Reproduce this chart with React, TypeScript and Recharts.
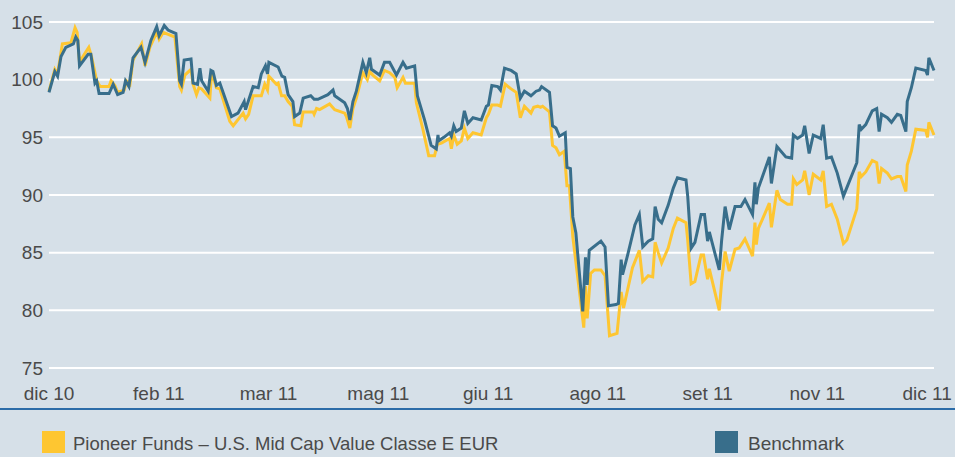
import React from "react";
import { LineChart, Line, XAxis, YAxis, CartesianGrid } from "recharts";

// trading days since dic 10 (x) and index values (y)
const fundDays = [
  0, 1.7, 2.5, 3.9, 6.4, 7.6, 8.2, 8.9, 10.3, 11.6, 12.4, 13.9, 14.9, 17.5, 18.1, 19.2, 20.0, 21.9, 22.6, 23.6,
  24.5, 27.0, 28.0, 29.4, 31.4, 32.1, 33.3, 36.7, 38.1, 38.6, 39.6, 41.4, 42.0, 43.0, 43.7, 44.5, 46.9, 47.4, 47.8,
  48.8, 49.8, 52.7, 53.7, 56.6, 57.3, 58.2, 59.5, 61.9, 62.9, 63.7, 64.1, 66.3, 66.8, 67.8, 68.7, 69.7, 70.9, 71.6,
  73.4, 74.1, 77.0, 77.3, 78.0, 78.9, 81.8, 83.3, 86.2, 86.7, 87.7, 88.6, 89.6, 91.5, 92.8, 93.5, 94.4, 96.4, 97.8,
  99.3, 100.8, 101.5, 103.2, 103.9, 106.6, 107.1, 109.0, 110.7, 112.4, 113.2, 114.4, 116.8, 117.3, 118.0, 119.0,
  120.2, 121.1, 122.1, 123.6, 126.0, 127.5, 128.1, 129.1, 130.8, 131.6, 133.0, 134.7, 136.2, 137.4, 138.6, 140.5,
  141.3, 142.5, 143.3, 143.9, 145.9, 146.8, 147.8, 148.8, 150.2, 151.0, 151.7, 152.7, 155.9, 156.4, 156.9, 157.9,
  159.0, 160.9, 162.1, 163.4, 165.6, 166.8, 167.5, 170.1, 172.1, 173.1, 174.7, 176.0, 176.7, 177.6, 178.6, 180.5,
  182.0, 183.2, 185.7, 186.2, 187.2, 188.3, 190.1, 190.8, 192.0, 192.5, 195.4, 196.1, 197.1, 198.3, 200.0, 201.2,
  202.9, 205.1, 205.8, 206.2, 206.8, 208.0, 210.0, 210.6, 212.2, 213.2, 215.3, 216.5, 217.0, 218.0, 219.7, 220.3,
  221.6, 222.8, 225.0, 225.7, 226.7, 228.1, 229.8, 231.6, 232.6, 235.5, 236.2, 236.8, 238.1, 240.0, 241.3, 242.0,
  242.7, 244.4, 245.6, 247.3, 248.3, 249.8, 250.2, 251.4, 252.7, 255.6, 256.1, 256.5, 258.0,
];
const fundValues = [
  99.0, 100.9, 100.5, 103.1, 103.2, 104.5, 104.1, 101.5, 102.2, 102.8, 102.0, 99.9, 99.4, 99.4, 99.9, 99.5, 98.9,
  99.1, 99.9, 99.6, 101.7, 103.1, 101.2, 102.8, 104.1, 103.5, 104.1, 103.7, 99.4, 99.1, 100.4, 100.9, 99.6, 98.7,
  99.3, 99.2, 98.4, 100.6, 100.3, 99.3, 99.2, 96.4, 96.0, 97.1, 96.6, 97.0, 98.6, 98.6, 99.6, 99.1, 100.3, 99.6,
  99.7, 98.6, 98.6, 98.1, 97.7, 96.1, 96.0, 97.2, 97.2, 97.0, 97.5, 97.4, 97.9, 97.4, 97.1, 96.8, 95.8, 97.5, 98.4,
  100.6, 100.0, 100.7, 100.4, 99.9, 100.8, 100.6, 100.2, 99.3, 100.2, 99.7, 99.7, 98.0, 95.7, 93.4, 93.4, 94.4,
  94.5, 94.9, 94.0, 95.2, 94.4, 94.7, 95.8, 94.9, 95.4, 95.2, 96.7, 97.0, 97.8, 97.8, 97.7, 99.6, 99.2, 98.9, 96.7,
  97.7, 97.1, 97.6, 97.7, 97.6, 97.7, 97.2, 94.3, 94.1, 93.5, 93.8, 90.8, 90.8, 86.4, 78.5, 82.1, 79.3, 83.2, 83.5,
  83.5, 83.0, 77.8, 78.0, 81.6, 80.2, 83.7, 85.2, 82.5, 83.0, 82.9, 85.9, 85.0, 84.1, 85.4, 87.1, 88.0, 87.6, 86.1,
  82.3, 82.5, 84.8, 84.8, 82.7, 83.6, 80.0, 82.5, 85.1, 83.4, 85.3, 85.4, 86.2, 84.7, 87.6, 85.7, 87.1, 87.9, 89.3,
  87.2, 90.4, 89.6, 89.2, 89.2, 91.4, 90.9, 91.3, 92.1, 90.0, 91.8, 91.3, 92.1, 89.0, 89.2, 87.9, 85.8, 86.1, 88.8,
  92.0, 91.6, 92.0, 93.0, 92.8, 91.0, 92.3, 91.9, 91.4, 91.6, 91.6, 90.3, 92.6, 93.8, 95.7, 95.6, 95.0, 96.3, 95.2,
];

const benchDays = [
  0, 1.7, 2.5, 3.5, 4.9, 7.1, 7.8, 8.4, 8.9, 11.4, 12.2, 13.4, 13.9, 14.6, 17.5, 18.7, 20.0, 21.6, 22.3, 23.3, 24.5,
  26.8, 28.0, 29.7, 31.4, 32.1, 33.6, 34.7, 37.0, 38.1, 38.6, 39.4, 41.4, 42.0, 43.3, 44.0, 44.5, 46.4, 47.2, 47.8,
  48.8, 49.8, 53.2, 55.1, 56.9, 57.3, 58.5, 59.5, 61.0, 61.9, 63.1, 63.7, 64.1, 66.8, 67.9, 68.7, 69.7, 71.1, 71.6,
  73.1, 74.1, 76.3, 77.3, 78.4, 81.3, 82.8, 83.3, 86.2, 87.0, 87.7, 88.6, 89.6, 91.5, 92.5, 93.5, 94.0, 96.4, 97.8,
  99.3, 101.3, 103.2, 104.2, 106.6, 107.4, 109.5, 111.4, 112.9, 113.4, 113.6, 115.1, 116.8, 117.3, 118.0, 118.7,
  120.2, 121.1, 122.1, 123.6, 126.0, 127.5, 128.1, 129.1, 130.8, 131.6, 132.8, 134.7, 136.2, 137.4, 138.6, 140.5,
  142.0, 143.0, 143.6, 145.9, 146.8, 147.8, 148.8, 150.5, 151.0, 152.0, 152.7, 153.6, 155.6, 156.4, 156.9, 157.5,
  160.9, 162.1, 163.1, 165.3, 166.0, 166.8, 167.2, 168.7, 170.8, 172.1, 173.1, 174.7, 176.0, 176.7, 177.6, 178.6,
  180.5, 182.0, 183.2, 185.7, 186.2, 187.2, 188.3, 190.1, 191.1, 192.0, 192.5, 195.4, 196.1, 197.1, 198.3, 200.0,
  201.7, 202.9, 205.1, 205.8, 206.2, 206.8, 208.0, 210.0, 210.6, 212.2, 214.8, 216.5, 217.0, 218.2, 219.7, 220.3,
  221.6, 222.8, 225.0, 225.7, 226.7, 228.1, 229.8, 231.6, 235.5, 236.2, 236.8, 238.1, 240.0, 241.3, 242.0, 242.7,
  244.4, 245.6, 247.3, 248.3, 249.8, 250.2, 251.4, 252.7, 255.6, 256.1, 256.5, 258.0,
];
const benchValues = [
  98.9, 100.7, 100.3, 102.0, 102.8, 103.1, 103.7, 103.4, 101.2, 102.2, 102.2, 99.7, 99.9, 98.8, 98.8, 99.6, 98.7,
  98.9, 99.9, 99.4, 101.9, 102.8, 101.5, 103.4, 104.6, 103.8, 104.7, 104.3, 104.0, 99.9, 99.6, 101.7, 101.8, 99.7,
  99.6, 101.0, 99.9, 99.0, 100.8, 100.7, 99.5, 99.7, 96.8, 97.1, 98.1, 97.4, 98.5, 99.4, 99.3, 100.5, 101.2, 100.5,
  101.5, 101.1, 100.3, 100.2, 98.7, 98.1, 96.8, 97.1, 98.4, 98.6, 98.3, 98.3, 98.7, 99.1, 98.6, 98.0, 97.5, 96.5,
  98.1, 99.0, 101.5, 100.6, 101.9, 100.9, 100.4, 101.5, 101.5, 100.4, 101.5, 101.0, 101.2, 98.6, 96.5, 94.3, 94.0,
  95.2, 94.7, 95.0, 95.4, 95.1, 96.0, 95.5, 95.8, 97.3, 96.2, 96.7, 96.5, 97.7, 97.8, 99.5, 99.4, 99.1, 101.0, 100.8,
  100.5, 98.4, 99.0, 98.6, 99.0, 99.1, 99.4, 98.9, 96.0, 95.8, 95.1, 95.4, 92.4, 92.3, 88.1, 86.7, 79.9, 84.6, 82.2,
  85.2, 86.0, 85.5, 80.4, 80.5, 80.6, 84.4, 83.1, 84.8, 87.4, 88.3, 85.5, 86.0, 86.2, 89.0, 87.9, 87.6, 89.1, 90.6,
  91.5, 91.3, 89.9, 85.4, 85.9, 88.3, 88.3, 86.0, 86.8, 83.5, 86.1, 89.0, 87.0, 89.0, 89.0, 89.6, 88.3, 91.1, 89.2,
  90.6, 91.6, 93.3, 91.0, 94.2, 93.3, 93.2, 95.2, 94.9, 95.2, 96.0, 93.6, 95.2, 94.9, 96.1, 93.2, 93.3, 91.9, 89.9,
  92.8, 96.1, 95.7, 96.1, 97.3, 97.5, 95.5, 97.0, 96.7, 96.3, 97.0, 96.9, 95.5, 98.1, 99.3, 101.0, 100.8, 100.4,
  101.9, 100.8,
];

const tickDays = [0, 32, 64, 96, 128, 160, 192, 224, 256];
const tickLabels = ["dic 10", "feb 11", "mar 11", "mag 11", "giu 11", "ago 11", "set 11", "nov 11", "dic 11"];
const yTicks = [75, 80, 85, 90, 95, 100, 105];

const FUND_NAME = "Pioneer Funds – U.S. Mid Cap Value Classe E EUR";
const BENCH_NAME = "Benchmark";

const FUND_COLOR = "#fec631";
const BENCH_COLOR = "#386e8b";
const TEXT = "#4a4a4a";
const FONT = "'Liberation Sans', Arial, sans-serif";

// merge both series on the day key
const buildRows = () => {
  const map = new Map<number, { day: number; fund?: number; bench?: number }>();
  fundDays.forEach((d, i) => {
    const r = map.get(d) || { day: d };
    r.fund = fundValues[i];
    map.set(d, r);
  });
  benchDays.forEach((d, i) => {
    const r = map.get(d) || { day: d };
    r.bench = benchValues[i];
    map.set(d, r);
  });
  return Array.from(map.values()).sort((a, b) => a.day - b.day);
};

const rows = buildRows();

export default function App() {
  return (
    <div
      style={{
        position: "absolute",
        left: 0,
        top: 0,
        width: 955,
        height: 457,
        background: "#d6e0e8",
        overflow: "hidden",
        fontFamily: FONT,
      }}
    >
      <LineChart width={955} height={410} data={rows} margin={{ top: 22, right: 21, bottom: 0, left: 0 }}>
        <CartesianGrid horizontal vertical={false} stroke="#ffffff" strokeWidth={2} />
        <XAxis
          dataKey="day"
          type="number"
          domain={[0, 258]}
          ticks={tickDays}
          interval={0}
          height={42}
          axisLine={false}
          tickLine={false}
          tickSize={0}
          tickMargin={19}
          tickFormatter={(v: number) => tickLabels[tickDays.indexOf(v)] ?? ""}
          tick={{ fill: TEXT, fontSize: 19, fontFamily: FONT }}
        />
        <YAxis
          type="number"
          domain={[75, 105]}
          ticks={yTicks}
          width={49}
          axisLine={false}
          tickLine={false}
          tickSize={0}
          tickMargin={6}
          tick={{ fill: TEXT, fontSize: 19, fontFamily: FONT }}
        />
        <Line
          type="linear"
          dataKey="fund"
          stroke={FUND_COLOR}
          strokeWidth={3}
          dot={false}
          connectNulls
          isAnimationActive={false}
        />
        <Line
          type="linear"
          dataKey="bench"
          stroke={BENCH_COLOR}
          strokeWidth={3}
          dot={false}
          connectNulls
          isAnimationActive={false}
        />
      </LineChart>

      <div style={{ position: "absolute", left: 0, top: 408, width: 955, height: 2, background: "#2c6ca8" }} />

      <div style={{ position: "absolute", left: 42, top: 431, width: 23, height: 22, background: FUND_COLOR }} />
      <div style={{ position: "absolute", left: 73, top: 432, fontSize: 18.5, color: TEXT, lineHeight: "24px", whiteSpace: "nowrap" }}>
        {FUND_NAME}
      </div>
      <div style={{ position: "absolute", left: 715, top: 431, width: 23, height: 22, background: BENCH_COLOR }} />
      <div style={{ position: "absolute", left: 748, top: 432, fontSize: 19, color: TEXT, lineHeight: "24px", whiteSpace: "nowrap" }}>
        {BENCH_NAME}
      </div>
    </div>
  );
}
